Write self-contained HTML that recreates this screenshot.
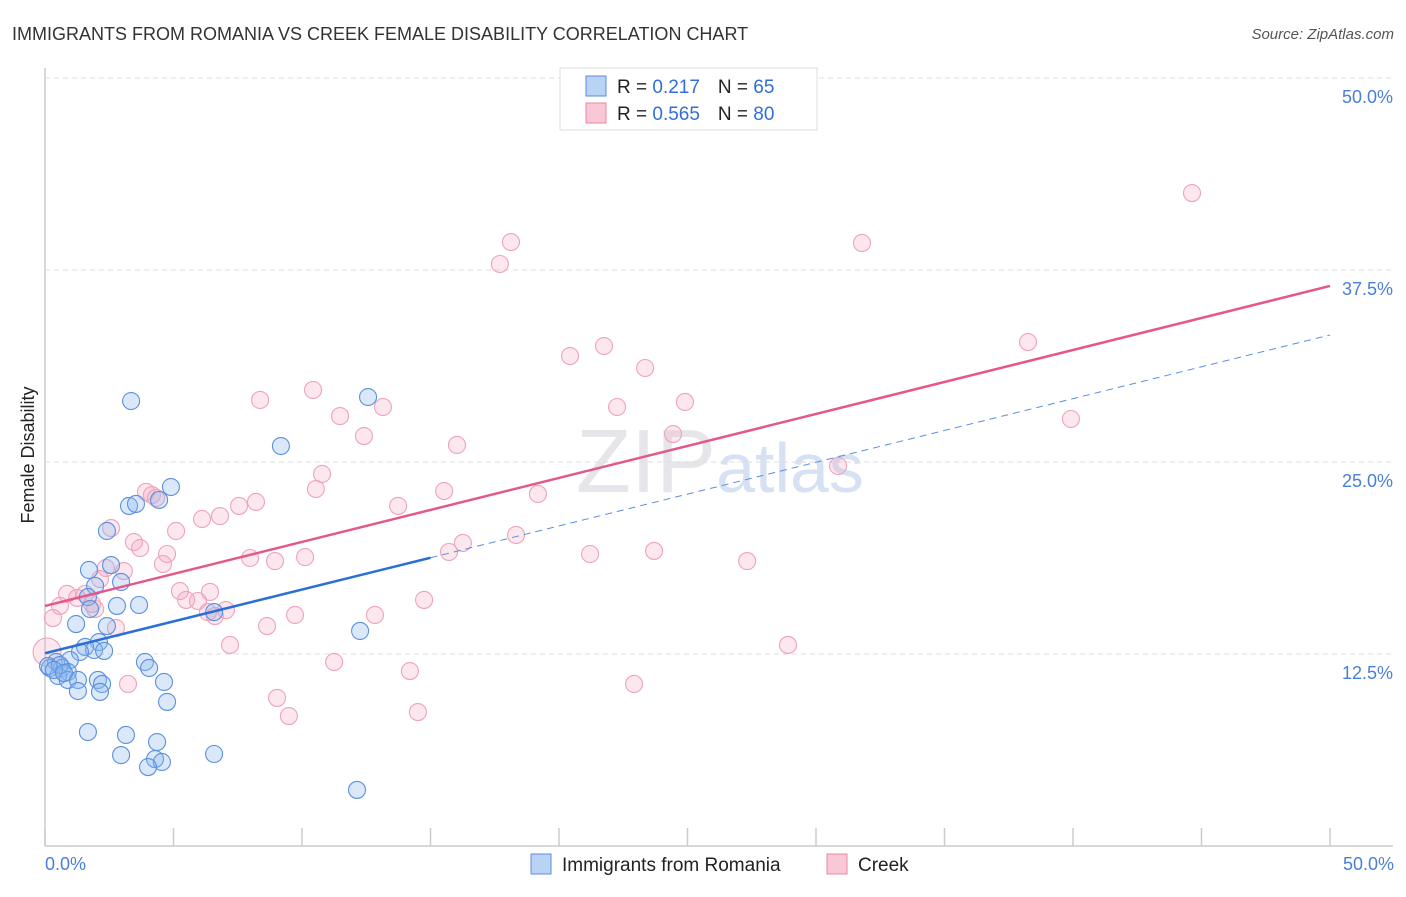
<!DOCTYPE html>
<html><head><meta charset="utf-8"><style>
body{margin:0;background:#fff;font-family:"Liberation Sans",sans-serif;}
svg text{font-family:"Liberation Sans",sans-serif;}
</style></head><body>
<svg id="c" width="1406" height="892" xmlns="http://www.w3.org/2000/svg">
<text x="12" y="40" font-size="18" fill="#333">IMMIGRANTS FROM ROMANIA VS CREEK FEMALE DISABILITY CORRELATION CHART</text>
<text x="1394" y="39" font-size="15" fill="#555" font-style="italic" text-anchor="end">Source: ZipAtlas.com</text>
<text x="720" y="492" font-size="90" fill="#e6e6ea" text-anchor="middle" font-family="Liberation Serif">ZIP<tspan fill="#d6e2f3" font-family="Liberation Sans" font-size="70">atlas</tspan></text>
<g id="grid"></g><g id="pts"></g><g id="lines"></g>
<text transform="translate(34,455) rotate(-90)" font-size="18" fill="#222" text-anchor="middle">Female Disability</text>
<text x="45" y="870" font-size="18" fill="#4a7fd6">0.0%</text>
<text x="1394" y="870" font-size="18" fill="#4a7fd6" text-anchor="end">50.0%</text>
<g>
<rect x="560" y="68" width="257" height="62" fill="#fff" stroke="#ddd"/>
<rect x="586" y="76" width="20" height="20" fill="#b9d3f5" stroke="#5b8ee0"/>
<rect x="586" y="103" width="20" height="20" fill="#f9c7d6" stroke="#e78aa8"/>
<text x="617" y="93" font-size="19" fill="#222">R = <tspan fill="#2f6fd6">0.217</tspan><tspan dx="18">N = </tspan><tspan fill="#2f6fd6">65</tspan></text>
<text x="617" y="120" font-size="19" fill="#222">R = <tspan fill="#2f6fd6">0.565</tspan><tspan dx="18">N = </tspan><tspan fill="#2f6fd6">80</tspan></text>
</g>
<g>
<rect x="531" y="854" width="20" height="20" fill="#b9d3f5" stroke="#5b8ee0"/>
<text x="562" y="871" font-size="19" fill="#222">Immigrants from Romania</text>
<rect x="827" y="854" width="20" height="20" fill="#f9c7d6" stroke="#e78aa8"/>
<text x="858" y="871" font-size="19" fill="#222">Creek</text>
</g>
</svg>
<script>
const yTicks=[12.5,25,37.5,50];
const yTickLabels=["12.5%","25.0%","37.5%","50.0%"];
const xTicks=[0,5,10,15,20,25,30,35,40,45,50];
const blueX=[3.35,9.18,12.57,4.90,3.27,3.54,4.44,2.41,1.71,2.57,2.96,1.95,1.67,2.80,3.66,1.75,1.21,2.41,2.10,1.56,1.91,2.30,1.36,0.97,0.43,0.19,0.66,0.89,0.51,0.89,1.28,2.06,2.22,3.89,4.05,4.63,1.28,2.14,1.67,3.15,4.75,4.36,2.96,6.58,4.28,4.55,4.01,12.14,12.26,6.58,0.12,0.58,0.35,0.74];
const blueY=[28.97,26.04,29.23,23.37,22.14,22.27,22.53,20.51,17.97,18.29,17.19,16.93,16.21,15.63,15.69,15.43,14.45,14.32,13.28,12.96,12.76,12.70,12.63,12.11,11.98,11.59,11.59,11.33,11.07,10.81,10.81,10.81,10.55,11.98,11.59,10.68,10.09,10.03,7.42,7.23,9.38,6.77,5.92,5.99,5.66,5.47,5.14,3.65,14.00,15.23,11.72,11.78,11.46,11.26];
const pinkX=[44.63,18.13,17.70,31.79,38.25,21.75,20.43,23.35,10.43,8.37,24.90,22.26,13.15,11.48,39.92,12.41,24.44,16.03,30.86,10.78,10.54,15.53,19.18,3.93,4.16,4.32,8.21,7.55,13.74,6.11,6.81,5.10,2.57,18.33,3.46,3.70,16.26,15.72,23.70,21.21,4.75,7.98,10.12,8.95,27.32,4.59,3.07,2.37,2.14,5.25,6.42,0.86,1.56,1.25,5.49,5.95,14.75,0.58,1.95,1.83,6.34,7.04,6.61,9.73,12.84,0.31,8.64,2.76,7.20,28.91,0.08,11.25,14.20,3.23,22.92,9.03,9.49,14.51];
const pinkY=[42.51,39.32,37.89,39.26,32.81,32.55,31.90,31.12,29.69,29.04,28.91,28.58,28.58,27.99,27.80,26.69,26.82,26.11,24.74,24.22,23.24,23.11,22.92,23.05,22.85,22.66,22.40,22.14,22.14,21.29,21.48,20.51,20.70,20.25,19.79,19.40,19.73,19.14,19.21,19.01,19.01,18.75,18.81,18.55,18.55,18.36,17.90,18.10,17.38,16.60,16.54,16.41,16.41,16.15,16.02,15.95,16.02,15.63,15.43,15.76,15.23,15.36,14.97,15.04,15.04,14.84,14.32,14.19,13.09,13.09,12.63,11.98,11.39,10.55,10.55,9.64,8.46,8.72];
const pinkLine=[15.63,36.46];
const blueLine=[12.55,33.27];
const blueSolidEnd=15;
const X=v=>45+v*25.7, Y=v=>846-v*15.36;
const NS="http://www.w3.org/2000/svg";
function mk(t,a,p){const e=document.createElementNS(NS,t);for(const k in a)e.setAttribute(k,a[k]);p.appendChild(e);return e;}
const g=document.getElementById('grid');
mk('line',{x1:45,y1:68,x2:45,y2:846,stroke:'#ccc','stroke-width':1.5},g);
mk('line',{x1:45,y1:846,x2:1393,y2:846,stroke:'#ccc','stroke-width':1.5},g);
yTicks.forEach((t,i)=>{
 const l=mk('line',{x1:45,y1:Y(t),x2:1393,y2:Y(t),stroke:'#ddd','stroke-dasharray':'5,4'},g);
 
 
 const tx=mk('text',{x:1393,y:Y(t)+25,'font-size':18,fill:'#4a7fd6','text-anchor':'end'},g);
 tx.textContent=yTickLabels[i];
 
 
});
xTicks.forEach(t=>{
 const l=mk('line',{x1:X(t),y1:828,x2:X(t),y2:846,stroke:'#ccc','stroke-width':1.5},g);
 
 
});
const p=document.getElementById('pts');
pinkX.forEach((x,i)=>{
 const c=mk('circle',{cx:X(x),cy:Y(pinkY[i]),r:i==70?14:8.5,fill:'rgba(245,170,195,0.28)',stroke:'#eda3bb','stroke-width':1.1},p);
 
 
});
blueX.forEach((x,i)=>{
 const c=mk('circle',{cx:X(x),cy:Y(blueY[i]),r:8.5,fill:'rgba(140,185,240,0.32)',stroke:'#5b90de','stroke-width':1.1},p);
 
 
});
const L=document.getElementById('lines');
const bAt=v=>blueLine[0]+(blueLine[1]-blueLine[0])*v/50;
let a=mk('line',{x1:X(0),y1:Y(pinkLine[0]),x2:X(50),y2:Y(pinkLine[1]),stroke:'#e5578a','stroke-width':2.5},L);


a=mk('line',{x1:X(0),y1:Y(bAt(0)),x2:X(blueSolidEnd),y2:Y(bAt(blueSolidEnd)),stroke:'#2a6fd6','stroke-width':2.5},L);


a=mk('line',{x1:X(blueSolidEnd),y1:Y(bAt(blueSolidEnd)),x2:X(50),y2:Y(bAt(50)),stroke:'#5b8ee0','stroke-width':1,'stroke-dasharray':'7,5'},L);


</script>
</body></html>
